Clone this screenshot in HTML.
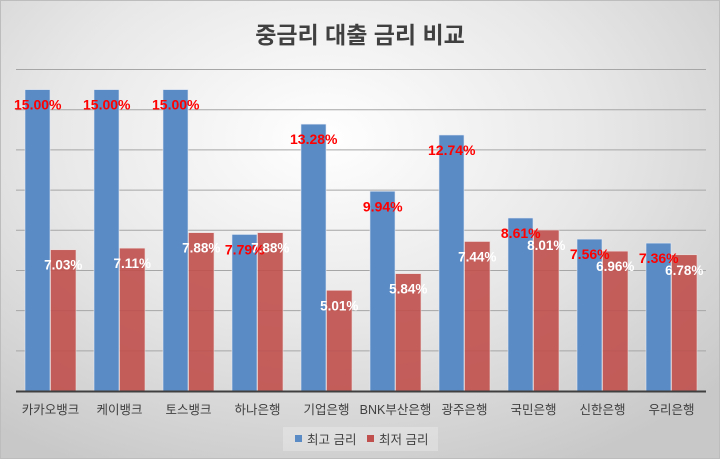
<!DOCTYPE html>
<html><head><meta charset="utf-8"><style>
html,body{margin:0;padding:0}
body{width:720px;height:459px;overflow:hidden;font-family:"Liberation Sans","Noto Sans CJK KR",sans-serif}
#wrap{position:relative;width:718px;height:457px;border:1px solid #bdbdbd;background:radial-gradient(ellipse 75% 80% at 45% 30%,#ffffff 0%,#e8e8e8 50%,#c8c8c8 100%)}
</style></head><body>
<div id="wrap">
<svg id="chart" width="718" height="457" xmlns="http://www.w3.org/2000/svg">
<text x="359" y="42" text-anchor="middle" font-size="23" font-weight="bold" fill="#404040" font-family="Liberation Sans, Noto Sans CJK KR, sans-serif">중금리 대출 금리 비교</text>
<g id="grid"></g><g id="bars"></g><g id="labels"></g><g id="xaxis"></g>
<g>
<rect x="282" y="426" width="155" height="24" fill="#ffffff" opacity="0.25"/>
<g><rect x="294" y="434" width="7" height="7" fill="#5b8bc4"/><text x="306" y="443" font-size="12.5" fill="#404040">최고 금리</text></g>
<g><rect x="366" y="434" width="7" height="7" fill="#c0504d"/><text x="378" y="443" font-size="12.5" fill="#404040">최저 금리</text></g>
</g>
</svg>
</div>
<script>
const categories=["카카오뱅크","케이뱅크","토스뱅크","하나은행","기업은행","BNK부산은행","광주은행","국민은행","신한은행","우리은행"];
const maxRates=[15.00,15.00,15.00,7.79,13.28,9.94,12.74,8.61,7.56,7.36];
const minRates=[7.03,7.11,7.88,7.88,5.01,5.84,7.44,8.01,6.96,6.78];
const yTicks=[0,2,4,6,8,10,12,14,16];
const NS="http://www.w3.org/2000/svg";
const x0=15,x1=705,yBase=390,yTop=68.5,yMax=16;
const band=(x1-x0)/categories.length;
const yScale=v=>yBase-(v/yMax)*(yBase-yTop);
const xBand=i=>x0+i*band;
const bw=25.5;
function mk(tag,attrs,parent){const e=document.createElementNS(NS,tag);for(const k in attrs)e.setAttribute(k,attrs[k]);parent.appendChild(e);return e;}
const grid=document.getElementById('grid'),bars=document.getElementById('bars'),labels=document.getElementById('labels'),xaxis=document.getElementById('xaxis');
yTicks.forEach(t=>{if(t===0)return;const l=mk('line',{x1:x0,x2:x1,y1:yScale(t),y2:yScale(t),stroke:'#a6a6a6','stroke-width':1},grid);

});
categories.forEach((c,i)=>{
const cx=xBand(i)+band/2;
const bx=cx-bw,rx=cx;
const b=mk('rect',{x:bx,y:yScale(maxRates[i]),width:bw-0.5,height:yBase-yScale(maxRates[i]),fill:'#5b8bc4',stroke:'#dfe7f2','stroke-width':0.6},bars);


const r=mk('rect',{x:rx,y:yScale(minRates[i]),width:bw,height:yBase-yScale(minRates[i]),fill:'#c0504d',opacity:0.9,stroke:'#f0dcdc','stroke-width':0.6},bars);


const t1=mk('text',{x:bx+bw/2,y:yScale(maxRates[i])+20,'text-anchor':'middle','font-size':14,'font-weight':'bold',fill:'#ff0000'},labels);
t1.textContent=maxRates[i].toFixed(2)+'%';


const t2=mk('text',{x:rx+bw/2,y:yScale(minRates[i])+20,'text-anchor':'middle','font-size':13.5,'font-weight':'bold',fill:'#ffffff'},labels);
t2.textContent=minRates[i].toFixed(2)+'%';


const xl=mk('text',{x:cx,y:413,'text-anchor':'middle','font-size':12.5,fill:'#404040'},xaxis);
xl.textContent=c;


});
const ax=mk('line',{x1:x0,x2:x1,y1:yBase+0.5,y2:yBase+0.5,stroke:'#404040','stroke-width':2},xaxis);


</script>
</body></html>
